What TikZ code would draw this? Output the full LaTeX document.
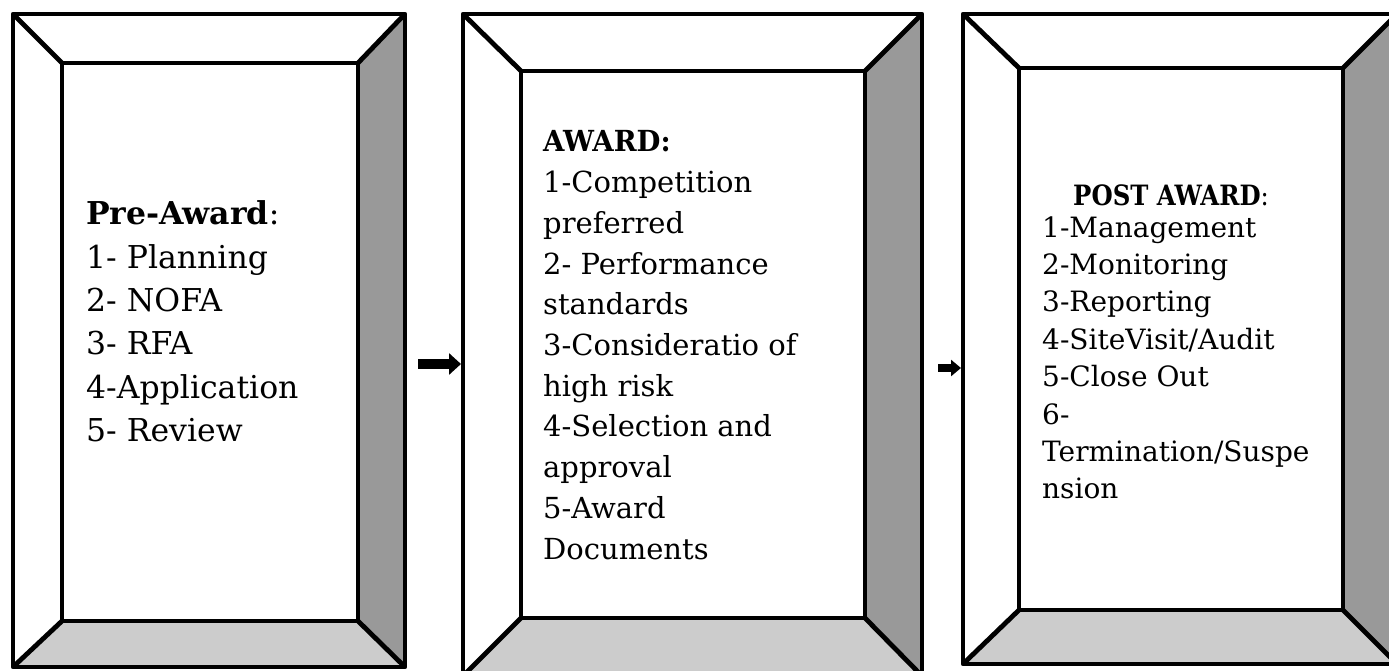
\documentclass[tikz,border=0pt]{standalone}
\usepackage{fontspec}
\usepackage{graphicx}
\setmainfont{DejaVu Serif}
\usetikzlibrary{arrows.meta}
\definecolor{sidegray}{HTML}{999999}
\definecolor{floorgray}{HTML}{CCCCCC}
\tikzset{
  frameline/.style={draw=black, line width=4.8pt, line join=round},
  fa/.style={anchor=base west, inner sep=0pt, font=\fontsize{31.5}{36}\selectfont},
  fb/.style={anchor=base west, inner sep=0pt, font=\fontsize{29}{34}\selectfont},
  fc/.style={anchor=base west, inner sep=0pt, font=\fontsize{28}{32}\selectfont}
}
\newcommand{\bevframe}[9]{%
  % #1 name, #2 L, #3 T, #4 R, #5 B, #6 l, #7 t, #8 r, #9 b
  \coordinate (#1-OTL) at (#2,#3); \coordinate (#1-OTR) at (#4,#3);
  \coordinate (#1-OBL) at (#2,#5); \coordinate (#1-OBR) at (#4,#5);
  \coordinate (#1-ITL) at (#6,#7); \coordinate (#1-ITR) at (#8,#7);
  \coordinate (#1-IBL) at (#6,#9); \coordinate (#1-IBR) at (#8,#9);
  \fill[white] (#1-OTL) rectangle (#1-OBR);
  \fill[sidegray] (#1-OTR) -- (#1-ITR) -- (#1-IBR) -- (#1-OBR) -- cycle;
  \fill[floorgray] (#1-OBL) -- (#1-IBL) -- (#1-IBR) -- (#1-OBR) -- cycle;
  \draw[frameline] (#1-OTL) rectangle (#1-OBR);
  \draw[frameline] (#1-ITL) rectangle (#1-IBR);
  \draw[frameline] (#1-OTL) -- (#1-ITL) (#1-OTR) -- (#1-ITR)
                   (#1-OBL) -- (#1-IBL) (#1-OBR) -- (#1-IBR);
}
\begin{document}
\begin{tikzpicture}[x=1pt,y=-1pt]
\useasboundingbox (0,0) rectangle (1389,671);
\clip (0,0) rectangle (1389,671);
% frames
\bevframe{f1}{13}{14}{405}{667}{62}{63}{358}{621}
\bevframe{f2}{463}{14}{922}{676}{521}{71}{865}{618}
\bevframe{f3}{963}{14}{1397}{664}{1019}{68}{1343}{610}
% arrows
\coordinate (a1s) at (418,364); \coordinate (a1e) at (461,364);
\draw[line width=10pt, -{Triangle[length=12pt,width=21pt]}] (a1s) -- (a1e);
\coordinate (a2s) at (938,368); \coordinate (a2e) at (961,368);
\draw[line width=8pt, -{Triangle[length=10pt,width=16pt]}] (a2s) -- (a2e);
% frame 1 text
\node[fa] (h1) at (86,225) {\textbf{Pre-Award}:};
\foreach \t [count=\i] in {{1- Planning},{2- NOFA},{3- RFA},{4-Application},{5- Review}}
  \node[fa] (p\i) at (86,{225+43.3*\i}) {\t};
% frame 2 text
\node[fb] (h2) at (543,152) {\scalebox{0.95}[1]{\textbf{AWARD:}}};
\foreach \t [count=\i] in {{1-Competition},{preferred},{2- Performance},{standards},{3-Consideratio of},{high risk},{4-Selection and},{approval},{5-Award},{Documents}}
  \node[fb] (q\i) at (543,{152+40.7*\i}) {\t};
% frame 3 text
\node[fc] (h3) at (1073,206) {\scalebox{0.87}[1]{\textbf{POST AWARD}:}};
\foreach \t [count=\i] in {{1-Management},{2-Monitoring},{3-Reporting},{4-SiteVisit/Audit},{5-Close Out},{6-},{Termination/Suspe},{nsion}}
  \node[fc] (r\i) at (1042,{199.6+37.4*\i}) {\t};
\end{tikzpicture}
\end{document}
